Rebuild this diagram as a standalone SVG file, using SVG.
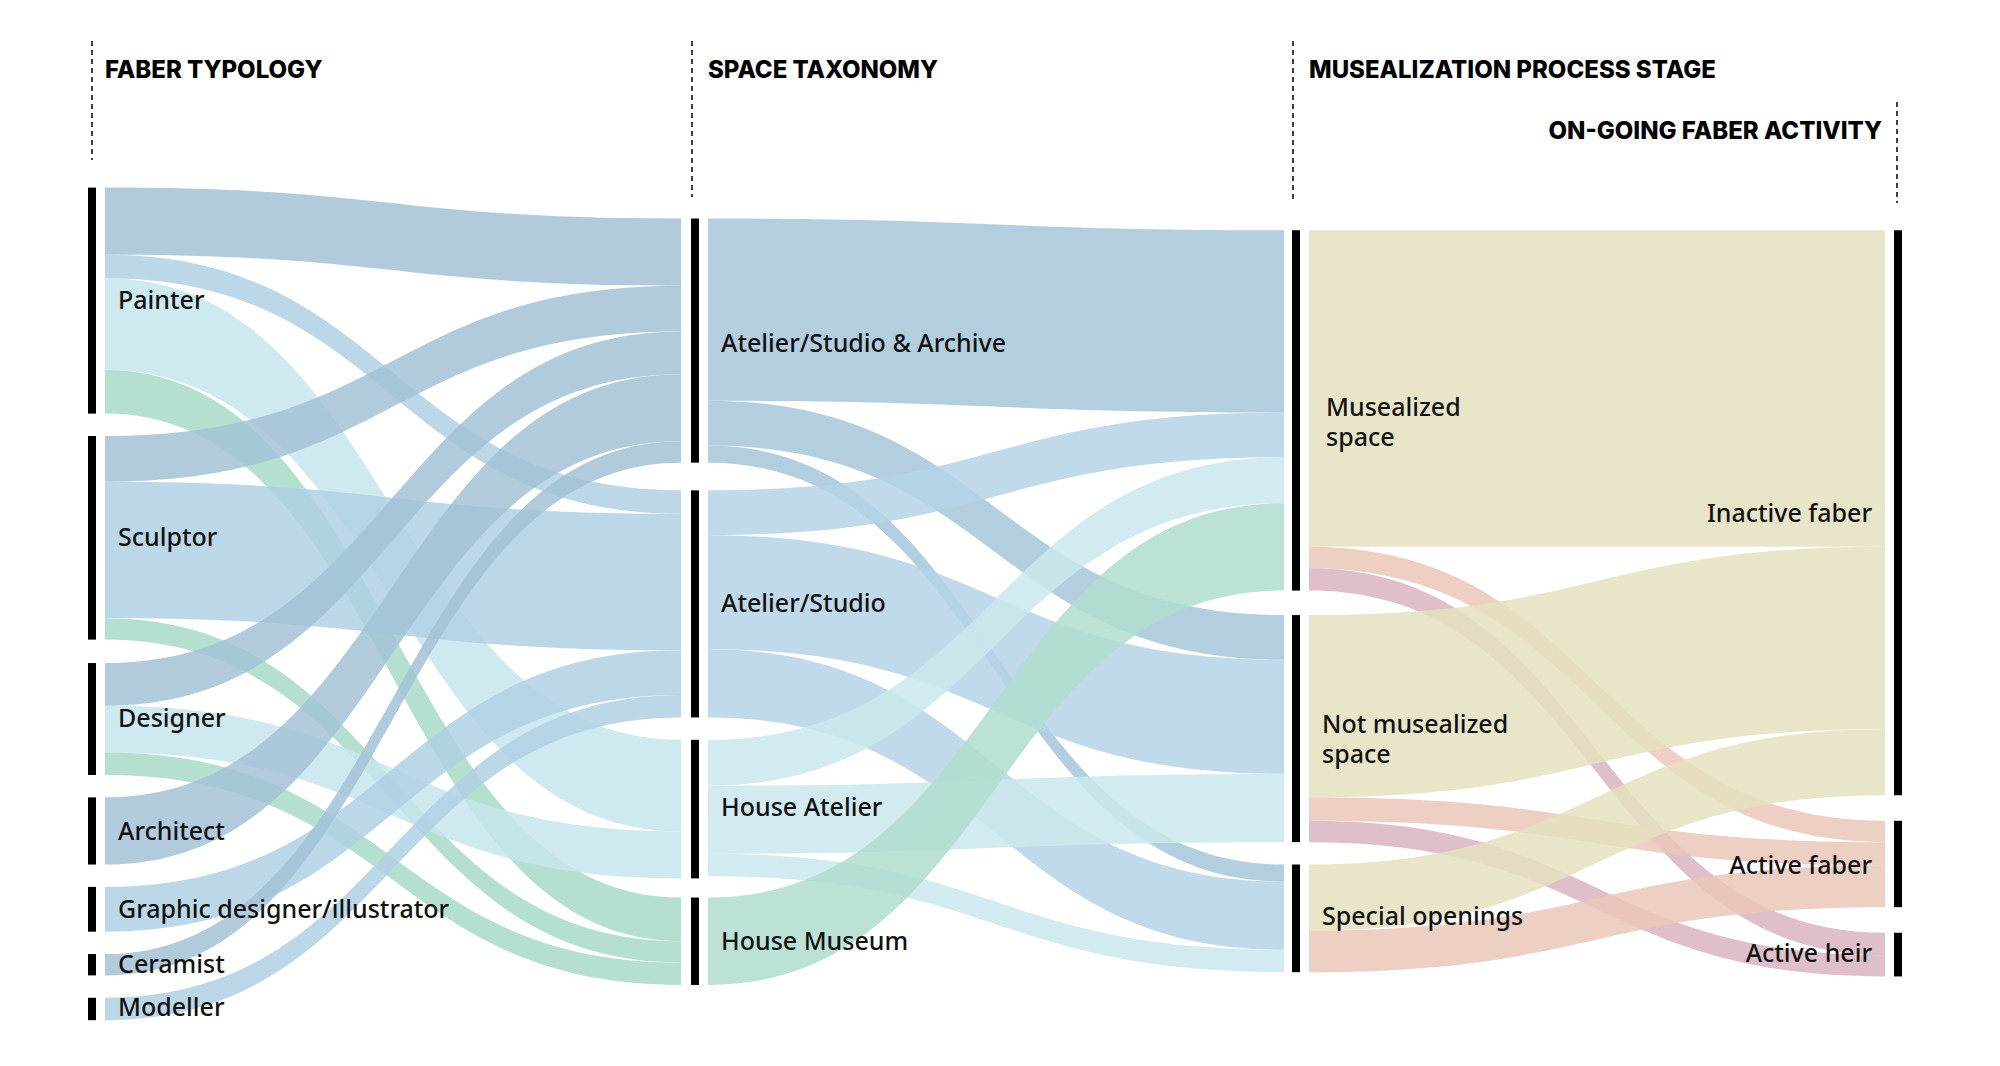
<svg xmlns="http://www.w3.org/2000/svg" width="2000" height="1066" viewBox="0 0 2000 1066">
<style>
.h{font-family:Inter,"Noto Sans",sans-serif;font-weight:800;font-size:24px;fill:#000}
.l{font-family:"Noto Sans",Inter,sans-serif;font-weight:500;font-size:25px;fill:#111}
.bar{fill:#000}
.dash{stroke:#000;stroke-width:1.5;stroke-dasharray:5,4;fill:none}
.f{opacity:0.85}
.asa{fill:#a3c2d6}.as{fill:#b0d0e4}.ha{fill:#c6e5ec}.hm{fill:#a8dac8}
.s1{fill:#a6c5d9}.s2{fill:#b5d4e7}.s3{fill:#cae7ed}.s4{fill:#b0ddcf}
.in{fill:#e5e1bf}.af{fill:#ebc7b8}.ah{fill:#d9b4bf}
</style>
<rect width="2000" height="1066" fill="#fff"/>
<g id="headers">
<line class="dash" x1="92" y1="41" x2="92" y2="160"/>
<text class="h" x="105" y="78">FABER TYPOLOGY</text>
<line class="dash" x1="692" y1="41" x2="692" y2="197"/>
<text class="h" x="708" y="78">SPACE TAXONOMY</text>
<line class="dash" x1="1293" y1="41" x2="1293" y2="203"/>
<text class="h" x="1309" y="78">MUSEALIZATION PROCESS STAGE</text>
<line class="dash" x1="1897" y1="102" x2="1897" y2="203"/>
<text class="h" x="1882" y="139" text-anchor="end">ON-GOING FABER ACTIVITY</text>
</g>
<g id="connectors" transform="scale(1 1.066)">
<path class="f asa" d="M105 176C393 176 393 205 681 205L681 268C393 268 393 239 105 239Z"/>
<path class="f as" d="M105 239C393 239 393 460 681 460L681 482C393 482 393 261 105 261Z"/>
<path class="f ha" d="M105 261C393 261 393 694 681 694L681 780C393 780 393 347 105 347Z"/>
<path class="f hm" d="M105 347C393 347 393 842 681 842L681 883C393 883 393 388 105 388Z"/>
<path class="f asa" d="M105 409C393 409 393 268 681 268L681 311C393 311 393 452 105 452Z"/>
<path class="f as" d="M105 452C393 452 393 482 681 482L681 610C393 610 393 580 105 580Z"/>
<path class="f hm" d="M105 580C393 580 393 883 681 883L681 903C393 903 393 600 105 600Z"/>
<path class="f asa" d="M105 622C393 622 393 311 681 311L681 351C393 351 393 662 105 662Z"/>
<path class="f ha" d="M105 662C393 662 393 780 681 780L681 824C393 824 393 706 105 706Z"/>
<path class="f hm" d="M105 706C393 706 393 903 681 903L681 924C393 924 393 727 105 727Z"/>
<path class="f asa" d="M105 748C393 748 393 351 681 351L681 414C393 414 393 811 105 811Z"/>
<path class="f as" d="M105 832C393 832 393 610 681 610L681 652C393 652 393 874 105 874Z"/>
<path class="f asa" d="M105 895C393 895 393 414 681 414L681 434C393 434 393 915 105 915Z"/>
<path class="f as" d="M105 936C393 936 393 652 681 652L681 673C393 673 393 957 105 957Z"/>

<path class="f s1" d="M708 205C996 205 996 216 1284 216L1284 387C996 387 996 376 708 376Z"/>
<path class="f s1" d="M708 376C996 376 996 577 1284 577L1284 619C996 619 996 418 708 418Z"/>
<path class="f s1" d="M708 418C996 418 996 811 1284 811L1284 827C996 827 996 434 708 434Z"/>
<path class="f s2" d="M708 460C996 460 996 387 1284 387L1284 429C996 429 996 502 708 502Z"/>
<path class="f s2" d="M708 502C996 502 996 619 1284 619L1284 726C996 726 996 609 708 609Z"/>
<path class="f s2" d="M708 609C996 609 996 827 1284 827L1284 891C996 891 996 673 708 673Z"/>
<path class="f s3" d="M708 694C996 694 996 429 1284 429L1284 472C996 472 996 737 708 737Z"/>
<path class="f s3" d="M708 737C996 737 996 726 1284 726L1284 790C996 790 996 801 708 801Z"/>
<path class="f s3" d="M708 801C996 801 996 891 1284 891L1284 912C996 912 996 822 708 822Z"/>
<path class="f s4" d="M708 842C996 842 996 472 1284 472L1284 554C996 554 996 924 708 924Z"/>

<path class="f in" d="M1309 216L1885 216L1885 513L1309 513Z"/>
<path class="f af" d="M1309 513C1597 513 1597 770 1885 770L1885 790C1597 790 1597 533 1309 533Z"/>
<path class="f ah" d="M1309 533C1597 533 1597 875 1885 875L1885 896C1597 896 1597 554 1309 554Z"/>
<path class="f in" d="M1309 577C1597 577 1597 513 1885 513L1885 684C1597 684 1597 748 1309 748Z"/>
<path class="f af" d="M1309 748C1597 748 1597 790 1885 790L1885 812C1597 812 1597 770 1309 770Z"/>
<path class="f ah" d="M1309 770C1597 770 1597 896 1885 896L1885 916C1597 916 1597 790 1309 790Z"/>
<path class="f in" d="M1309 811C1597 811 1597 684 1885 684L1885 746C1597 746 1597 873 1309 873Z"/>
<path class="f af" d="M1309 873C1597 873 1597 812 1885 812L1885 851C1597 851 1597 912 1309 912Z"/>
</g>
<g id="n-painter"><rect class="bar" transform="scale(1 1.066)" x="88" y="176" width="8" height="212"/><text class="l" x="118" y="309">Painter</text></g>
<g id="n-sculptor"><rect class="bar" transform="scale(1 1.066)" x="88" y="409" width="8" height="191"/><text class="l" x="118" y="546">Sculptor</text></g>
<g id="n-designer"><rect class="bar" transform="scale(1 1.066)" x="88" y="622" width="8" height="105"/><text class="l" x="118" y="727">Designer</text></g>
<g id="n-architect"><rect class="bar" transform="scale(1 1.066)" x="88" y="748" width="8" height="63"/><text class="l" x="118" y="840">Architect</text></g>
<g id="n-graphic"><rect class="bar" transform="scale(1 1.066)" x="88" y="832" width="8" height="42"/><text class="l" x="118" y="918">Graphic designer/illustrator</text></g>
<g id="n-ceramist"><rect class="bar" transform="scale(1 1.066)" x="88" y="895" width="8" height="20"/><text class="l" x="118" y="973">Ceramist</text></g>
<g id="n-modeller"><rect class="bar" transform="scale(1 1.066)" x="88" y="936" width="8" height="21"/><text class="l" x="118" y="1016">Modeller</text></g>
<g id="n-asa"><rect class="bar" transform="scale(1 1.066)" x="691" y="205" width="8" height="229"/><text class="l" x="721" y="352">Atelier/Studio &amp; Archive</text></g>
<g id="n-as"><rect class="bar" transform="scale(1 1.066)" x="691" y="460" width="8" height="213"/><text class="l" x="721" y="612">Atelier/Studio</text></g>
<g id="n-ha"><rect class="bar" transform="scale(1 1.066)" x="691" y="694" width="8" height="130"/><text class="l" x="721" y="816">House Atelier</text></g>
<g id="n-hm"><rect class="bar" transform="scale(1 1.066)" x="691" y="842" width="8" height="82"/><text class="l" x="721" y="950">House Museum</text></g>
<g id="n-mus"><rect class="bar" transform="scale(1 1.066)" x="1292" y="216" width="8" height="338"/><text class="l" x="1326" y="416">Musealized</text><text class="l" x="1326" y="446">space</text></g>
<g id="n-not"><rect class="bar" transform="scale(1 1.066)" x="1292" y="577" width="8" height="213"/><text class="l" x="1322" y="733">Not musealized</text><text class="l" x="1322" y="763">space</text></g>
<g id="n-sp"><rect class="bar" transform="scale(1 1.066)" x="1292" y="811" width="8" height="101"/><text class="l" x="1322" y="925">Special openings</text></g>
<g id="n-inactive"><rect class="bar" transform="scale(1 1.066)" x="1894" y="216" width="8" height="530"/><text class="l" x="1872" y="522" text-anchor="end">Inactive faber</text></g>
<g id="n-af"><rect class="bar" transform="scale(1 1.066)" x="1894" y="770" width="8" height="81"/><text class="l" x="1872" y="874" text-anchor="end">Active faber</text></g>
<g id="n-ah"><rect class="bar" transform="scale(1 1.066)" x="1894" y="875" width="8" height="41"/><text class="l" x="1872" y="962" text-anchor="end">Active heir</text></g>
</svg>
